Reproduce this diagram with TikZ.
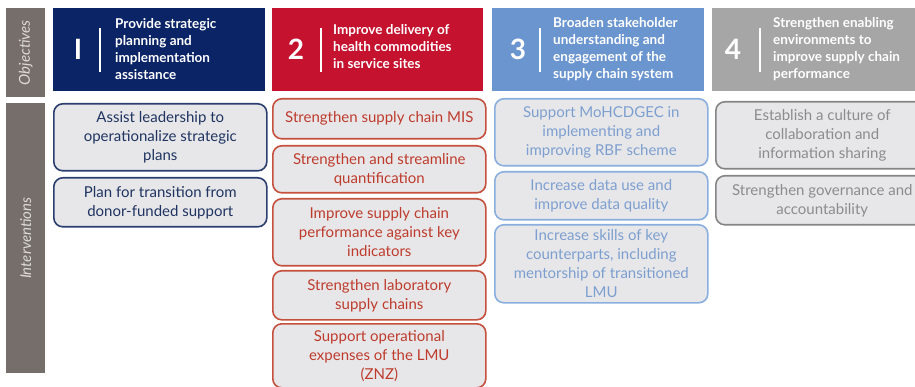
\documentclass[tikz,border=0pt]{standalone}
\usepackage{fontspec}
\setmainfont{Lato}
\definecolor{labelbar}{HTML}{766E6A}
\definecolor{labeltext}{HTML}{DDDAD8}
\definecolor{boxfill}{HTML}{E7E7E9}
\definecolor{navyfill}{HTML}{0B2466}
\definecolor{redfill}{HTML}{C4122F}
\definecolor{bluefill}{HTML}{6B95CF}
\definecolor{grayfill}{HTML}{A6A6A6}
\definecolor{navyline}{HTML}{2C3E70}
\definecolor{navytext}{HTML}{1F3461}
\definecolor{redline}{HTML}{C4503D}
\definecolor{redtext}{HTML}{BF3B2C}
\definecolor{blueline}{HTML}{8AAEDD}
\definecolor{bluetext}{HTML}{7D9FD0}
\definecolor{grayline}{HTML}{858585}
\definecolor{graytext}{HTML}{8C8C8C}
\begin{document}
\begin{tikzpicture}[x=1pt,y=-1pt,
  sidebar/.style={fill=labelbar, anchor=north west, minimum width=39pt, inner sep=0pt},
  sidelabel/.style={text=labeltext, rotate=90, font=\fontsize{15}{17}\selectfont\itshape},
  objbox/.style={anchor=north west, minimum height=83pt, inner sep=0pt},
  objnum/.style={text=white, font=\fontsize{28}{30}\selectfont\bfseries},
  objtext/.style={text=white, anchor=west, align=left, inner sep=0pt,
    font=\fontsize{13.5}{17}\selectfont\bfseries},
  divider/.style={white, line width=1.4pt},
  ibox/.style={draw, fill=boxfill, rounded corners=9pt, line width=1.6pt,
    anchor=north west, align=center, inner sep=1pt, minimum width=213pt,
    font=\fontsize{15}{19}\selectfont},
  col1/.style={ibox, draw=navyline, text=navytext},
  col2/.style={ibox, draw=redline, text=redtext},
  col3/.style={ibox, draw=blueline, text=bluetext},
  col4/.style={ibox, draw=grayline, text=graytext}]
\useasboundingbox (0,0) rectangle (915,387);
\clip (0,0) rectangle (915,387);

% side labels
\node[sidebar, minimum height=89pt] (objbar) at (6,8) {};
\node[sidelabel] (objlbl) at (objbar.center) {Objectives};
\node[sidebar, minimum height=270pt] (intbar) at (6,103) {};
\node[sidelabel] (intlbl) at (intbar.center) {Interventions};

% objective headers
\node[objbox, fill=navyfill, minimum width=212pt] (o1) at (53,8) {};
\node[objnum] (n1) at (78,49.5) {I};
\draw[divider] (100,28) -- (100,72);
\node[objtext] (t1) at (115,49.5) {Provide strategic\\planning and\\implementation\\assistance};

\node[objbox, fill=redfill, minimum width=211pt] (o2) at (272,8) {};
\node[objnum] (n2) at (296,49.5) {2};
\node[objtext] (t2) at (333,47) {Improve delivery of\\health commodities\\in service sites};
\draw[divider] (321,28) -- (321,72);

\node[objbox, fill=bluefill, minimum width=212pt] (o3) at (492,8) {};
\node[objnum] (n3) at (518,49.5) {3};
\draw[divider] (540,28) -- (540,72);
\node[objtext] (t3) at (553,49.5) {Broaden stakeholder\\understanding and\\engagement of the\\supply chain system};

\node[objbox, fill=grayfill, minimum width=210pt] (o4) at (712,8) {};
\node[objnum] (n4) at (733,49.5) {4};
\draw[divider] (760,28) -- (760,72);
\node[objtext] (t4) at (773,49.5) {Strengthen enabling\\environments to\\improve supply chain\\performance};

% interventions, objective 1
\node[col1, minimum height=67pt] (a1) at (53,103) {Assist leadership to\\operationalize strategic\\plans};
\node[col1, minimum height=49pt] (a2) at (53,177) {Plan for transition from\\donor-funded support};

% interventions, objective 2
\node[col2, minimum height=40pt] (b1) at (272,98) {Strengthen supply chain MIS};
\node[col2, minimum height=47pt] (b2) at (272,145) {Strengthen and streamline\\quantification};
\node[col2, minimum height=67pt] (b3) at (272,198) {Improve supply chain\\performance against key\\indicators};
\node[col2, minimum height=49pt] (b4) at (272,270) {Strengthen laboratory\\supply chains};
\node[col2, minimum height=64pt] (b5) at (272,323) {Support operational\\expenses of the LMU\\(ZNZ)};

% interventions, objective 3
\node[col3, minimum height=67pt] (c1) at (494,98) {Support MoHCDGEC in\\implementing and\\improving RBF scheme};
\node[col3, minimum height=48pt] (c2) at (494,171) {Increase data use and\\improve data quality};
\node[col3, minimum height=78pt] (c3) at (494,224) {Increase skills of key\\counterparts, including\\mentorship of transitioned\\LMU};

% interventions, objective 4
\node[col4, minimum height=67pt] (d1) at (715,101) {Establish a culture of\\collaboration and\\information sharing};
\node[col4, minimum height=49pt] (d2) at (715,175) {Strengthen governance and\\accountability};
\end{tikzpicture}
\end{document}
